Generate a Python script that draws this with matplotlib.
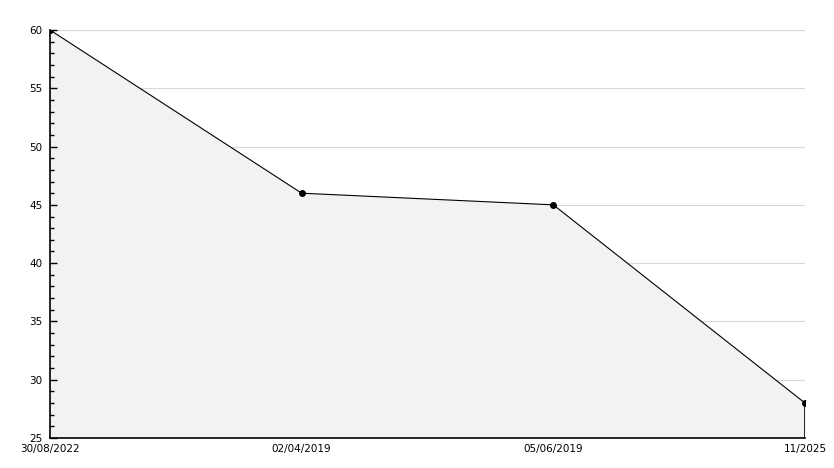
import matplotlib
matplotlib.use('Agg')
import matplotlib.pyplot as plt
import numpy as np

dates = ['30/08/2022', '02/04/2019', '05/06/2019', '11/2025']
values = [60, 46, 45, 28]

fig = plt.figure(figsize=(8.34, 4.68), dpi=100)
ax = fig.add_axes([50/834, 30/468, 755/834, 408/468])

x = np.arange(len(values))
ax.fill_between(x, values, 25, color='#f2f2f2', lw=0, zorder=1)
ax.plot(x, values, color='black', lw=0.8, marker='o', ms=4, zorder=3)
ax.plot([x[-1], x[-1]], [25, values[-1]], color='black', lw=1.2, zorder=3)

ax.set_xlim(0, len(values) - 1)
ax.set_ylim(25, 60)
ax.set_yticks(range(25, 61, 5))
ax.set_yticks(range(25, 61), minor=True)
ax.set_xticks(x)
ax.set_xticklabels(dates)

for y in range(30, 61, 5):
    ax.axhline(y, color='#d9d9d9', lw=0.8, zorder=0)

for s in ['top', 'right']:
    ax.spines[s].set_visible(False)
ax.spines['left'].set_linewidth(1.2)
ax.spines['bottom'].set_linewidth(1.2)

ax.tick_params(axis='y', which='major', direction='in', length=5, width=1, labelsize=7.5, pad=5.5)
ax.tick_params(axis='y', which='minor', direction='in', length=3, width=1)
ax.tick_params(axis='x', length=0, labelsize=7.5, pad=4)

plt.savefig('out.png', dpi=100)
